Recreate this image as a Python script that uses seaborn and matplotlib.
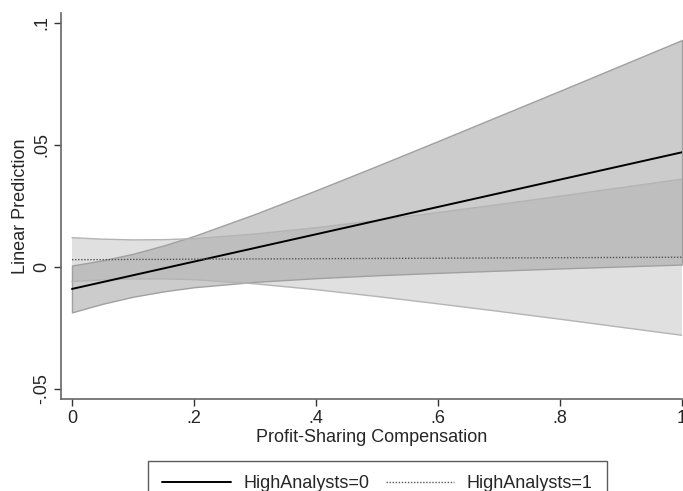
import matplotlib
matplotlib.use("Agg")
import matplotlib.pyplot as plt
from matplotlib.lines import Line2D
import pandas as pd
import seaborn as sns

# profit-sharing compensation grid
x_vals = [0.0, 0.05, 0.1, 0.15, 0.2, 0.3, 0.4, 0.5, 0.6, 0.7, 0.8, 0.9, 1.0]

# HighAnalysts=0
pred0 = [-0.0090, -0.0062, -0.0034, -0.0006, 0.0022, 0.0078, 0.0134, 0.0190, 0.0246, 0.0302, 0.0358, 0.0414, 0.0470]
upper0 = [0.0006, 0.0027, 0.0054, 0.0088, 0.0127, 0.0217, 0.0314, 0.0414, 0.0516, 0.0619, 0.0722, 0.0826, 0.0930]
lower0 = [-0.0186, -0.0151, -0.0122, -0.0100, -0.0083, -0.0061, -0.0046, -0.0034, -0.0024, -0.0015, -0.0006, 0.0002, 0.0010]

# HighAnalysts=1
pred1 = [0.0030, 0.0030, 0.0031, 0.0031, 0.0032, 0.0033, 0.0034, 0.0035, 0.0036, 0.0037, 0.0038, 0.0039, 0.0040]
upper1 = [0.0120, 0.0114, 0.0111, 0.0112, 0.0116, 0.0135, 0.0161, 0.0191, 0.0223, 0.0256, 0.0290, 0.0325, 0.0360]
lower1 = [-0.0060, -0.0053, -0.0049, -0.0049, -0.0052, -0.0069, -0.0093, -0.0121, -0.0151, -0.0182, -0.0214, -0.0247, -0.0280]

y_ticks = [-0.05, 0, 0.05, 0.1]
y_tick_labels = ["-.05", "0", ".05", ".1"]
x_ticks = [0, 0.2, 0.4, 0.6, 0.8, 1.0]
x_tick_labels = ["0", ".2", ".4", ".6", ".8", "1"]
groups = ["HighAnalysts=0", "HighAnalysts=1"]

df = pd.DataFrame({
    "x": x_vals * 2,
    "pred": pred0 + pred1,
    "group": [groups[0]] * len(x_vals) + [groups[1]] * len(x_vals),
})

sns.set_style("white")
plt.rcParams["font.family"] = ["Liberation Sans", "DejaVu Sans"]
FS = 13

fig = plt.figure(figsize=(6.83, 4.91), dpi=100)
ax = fig.add_axes([61 / 683, 1 - 399 / 491, 621 / 683, (399 - 12.7) / 491])

# confidence bands
ax.fill_between(x_vals, lower0, upper0, facecolor="#cccccc", edgecolor="#a0a0a0", linewidth=1.0, zorder=1)
ax.fill_between(x_vals, lower1, upper1, facecolor="#a2a2a2", alpha=0.333, edgecolor="none", zorder=2)
ax.plot(x_vals, upper1, color="#b4b4b4", linewidth=1.0, zorder=2)
ax.plot(x_vals, lower1, color="#b4b4b4", linewidth=1.0, zorder=2)

sns.lineplot(data=df, x="x", y="pred", hue="group", style="group",
             palette=["black", "#555555"], dashes=[(None, None), (1, 1)],
             linewidth=1.4, ax=ax, legend=False, zorder=3)
ax.lines[-1].set_linewidth(1.0)
ax.lines[-1].set_dashes([1, 1.2])

ax.set_xlim(-0.018, 1.0)
ax.set_ylim(-0.0541, 0.1042)
ax.set_xticks(x_ticks, labels=x_tick_labels)
ax.set_yticks(y_ticks, labels=y_tick_labels)
ax.tick_params(axis="both", direction="out", length=5, width=1, color="#333333",
               labelsize=FS, pad=3, bottom=True, left=True)
for lbl in ax.get_yticklabels():
    lbl.set_rotation(90)
    lbl.set_va("center")
ax.set_xlabel("Profit-Sharing Compensation", fontsize=FS, labelpad=1)
ax.set_ylabel("Linear Prediction", fontsize=FS, labelpad=3)

for side in ["top", "right"]:
    ax.spines[side].set_visible(False)
for side in ["left", "bottom"]:
    ax.spines[side].set_color("#666666")
    ax.spines[side].set_linewidth(1.2)

handles = [
    Line2D([0], [0], color="black", linewidth=1.4),
    Line2D([0], [0], color="#555555", linewidth=1.0, dashes=[1, 1.2]),
]
leg = fig.legend(handles, groups, ncol=2,
                 loc="upper center", bbox_to_anchor=(377.5 / 683, 1 - 461 / 491),
                 fontsize=FS, handlelength=3.8, columnspacing=0.9, handletextpad=0.7,
                 frameon=True, fancybox=False, borderpad=0.8, borderaxespad=0)
leg.get_frame().set_edgecolor("#333333")
leg.get_frame().set_linewidth(1.0)

fig.savefig("out.png", dpi=100)
